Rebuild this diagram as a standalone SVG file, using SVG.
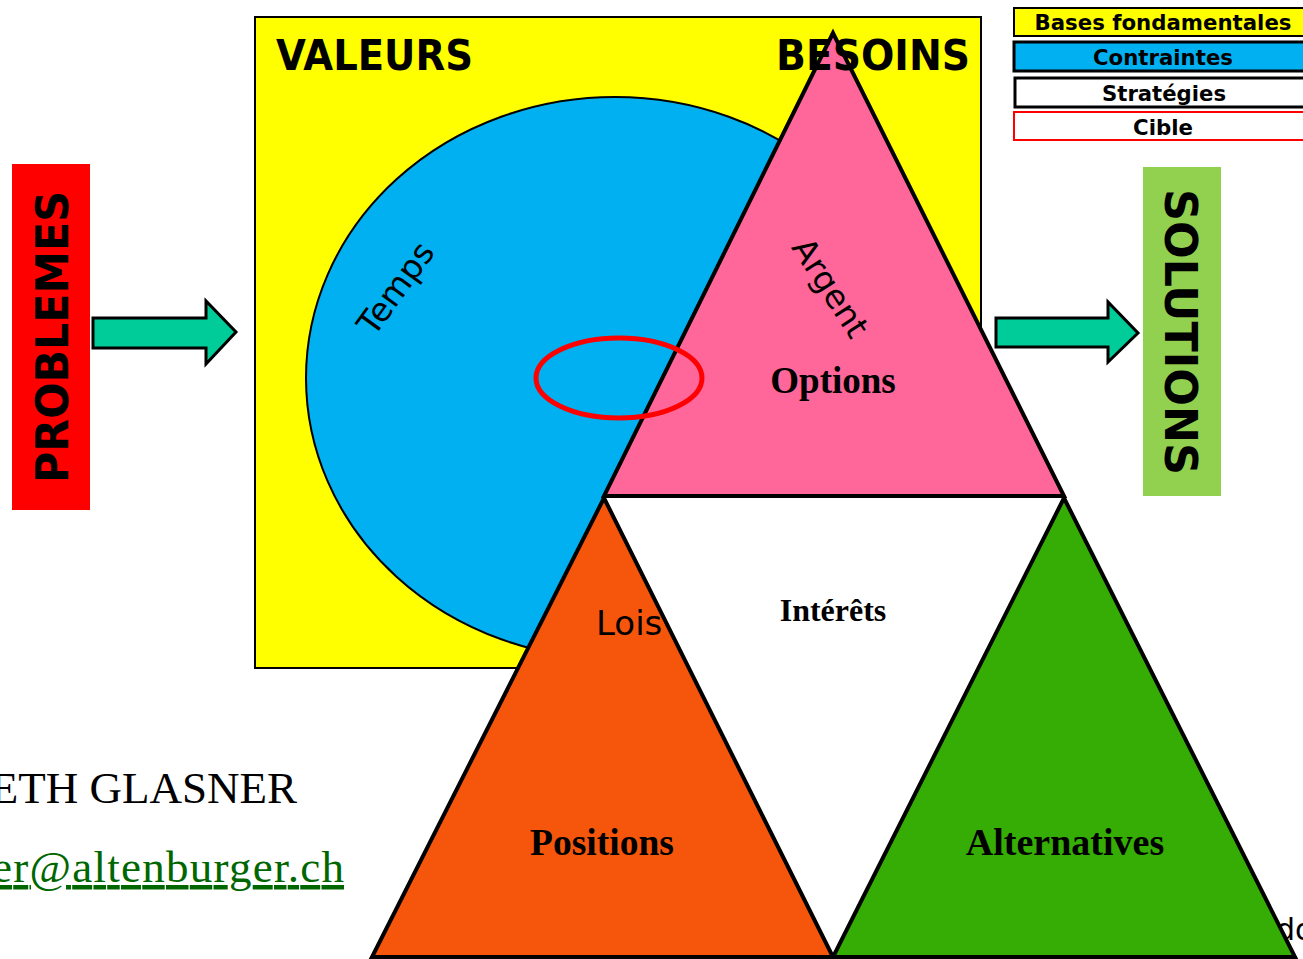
<svg xmlns="http://www.w3.org/2000/svg" width="1303" height="959" viewBox="0 0 1303 959">
<style>
.sans{font-family:"DejaVu Sans","Liberation Sans",sans-serif}
.bold{font-weight:bold}
.serif{font-family:"Liberation Serif","Times New Roman",serif}
.tri{stroke:#000;stroke-width:4;stroke-linejoin:miter}
.arrow{fill:#00CC99;stroke:#000;stroke-width:3}
.leg{font-family:"DejaVu Sans","Liberation Sans",sans-serif;font-weight:bold;font-size:21px;text-anchor:middle}
</style>
<rect width="1303" height="959" fill="#fff"/>
<g id="cadre">
<rect x="255" y="17" width="726" height="651" fill="#FFFF00" stroke="#000" stroke-width="2"/>
<text class="sans bold" x="276" y="70" font-size="42" textLength="197" lengthAdjust="spacingAndGlyphs">VALEURS</text>
</g>
<g id="contraintes">
<ellipse cx="615" cy="378" rx="309" ry="281" fill="#00B0F0" stroke="#000" stroke-width="2"/>
<text class="sans" font-size="33" transform="translate(405,295) rotate(-54)" text-anchor="middle">Temps</text>
</g>
<g id="interets">
<polygon points="604,496 1064,496 833,957" fill="#fff"/>
<text class="serif bold" x="833" y="621" font-size="32" text-anchor="middle">Intérêts</text>
</g>
<g id="do-text">
<text class="sans" x="1276" y="940" font-size="30">do</text>
</g>
<g id="options">
<polygon class="tri" points="833,33 604,496 1064,496" fill="#FF6699"/>
<text class="sans" font-size="33" transform="translate(821,294) rotate(57)" text-anchor="middle">Argent</text>
<text class="serif bold" x="833" y="393" font-size="37" text-anchor="middle">Options</text>
</g>
<g id="besoins">
<text class="sans bold" x="776" y="70" font-size="42" textLength="194" lengthAdjust="spacingAndGlyphs">BESOINS</text>
</g>
<g id="cible">
<ellipse cx="619" cy="378" rx="83" ry="40" fill="none" stroke="#FF0000" stroke-width="5"/>
</g>
<g id="positions">
<polygon class="tri" points="604,498 372,957 833,957" fill="#F5560C"/>
<text class="sans" x="596" y="635" font-size="34">Lois</text>
<text class="serif bold" x="602" y="855" font-size="37.5" text-anchor="middle">Positions</text>
</g>
<g id="alternatives">
<polygon class="tri" points="1064,498 833,957 1295,957" fill="#36AD05"/>
<text class="serif bold" x="1065" y="855" font-size="38" text-anchor="middle">Alternatives</text>
</g>
<g id="problemes">
<rect x="12" y="164" width="78" height="346" fill="#FF0000"/>
<text class="sans bold" font-size="44" transform="translate(68,337) rotate(-90)" text-anchor="middle" textLength="292" lengthAdjust="spacingAndGlyphs">PROBLEMES</text>
</g>
<g id="solutions">
<rect x="1143" y="167" width="78" height="329" fill="#92D050"/>
<text class="sans bold" font-size="44" transform="translate(1165,332) rotate(90)" text-anchor="middle" textLength="286" lengthAdjust="spacingAndGlyphs">SOLUTIONS</text>
</g>
<g id="connectors">
<polygon class="arrow" points="93,318 206,318 206,301 236,332 206,364 206,348 93,348"/>
<polygon class="arrow" points="996,318 1108,318 1108,302 1138,333 1108,362 1108,347 996,347"/>
</g>
<g id="legende">
<rect x="1014" y="8" width="295" height="28" fill="#FFFF00" stroke="#000" stroke-width="2"/>
<text class="leg" x="1163" y="30" textLength="257" lengthAdjust="spacingAndGlyphs">Bases fondamentales</text>
<rect x="1014" y="42" width="295" height="29" fill="#00B0F0" stroke="#000" stroke-width="3"/>
<text class="leg" x="1163" y="65" textLength="140" lengthAdjust="spacingAndGlyphs">Contraintes</text>
<rect x="1015" y="78" width="295" height="29" fill="#fff" stroke="#000" stroke-width="3"/>
<text class="leg" x="1164" y="101" textLength="124" lengthAdjust="spacingAndGlyphs">Stratégies</text>
<rect x="1014" y="112" width="295" height="28" fill="#fff" stroke="#FF0000" stroke-width="2"/>
<text class="leg" x="1163" y="135" textLength="60" lengthAdjust="spacingAndGlyphs">Cible</text>
</g>
<g id="auteur">
<text class="serif" x="297" y="803" font-size="45" text-anchor="end">ETH GLASNER</text>
<text class="serif" x="-8" y="882" font-size="45" fill="#006600" textLength="352" lengthAdjust="spacing" text-decoration="underline">er@altenburger.ch</text>
</g>
</svg>
